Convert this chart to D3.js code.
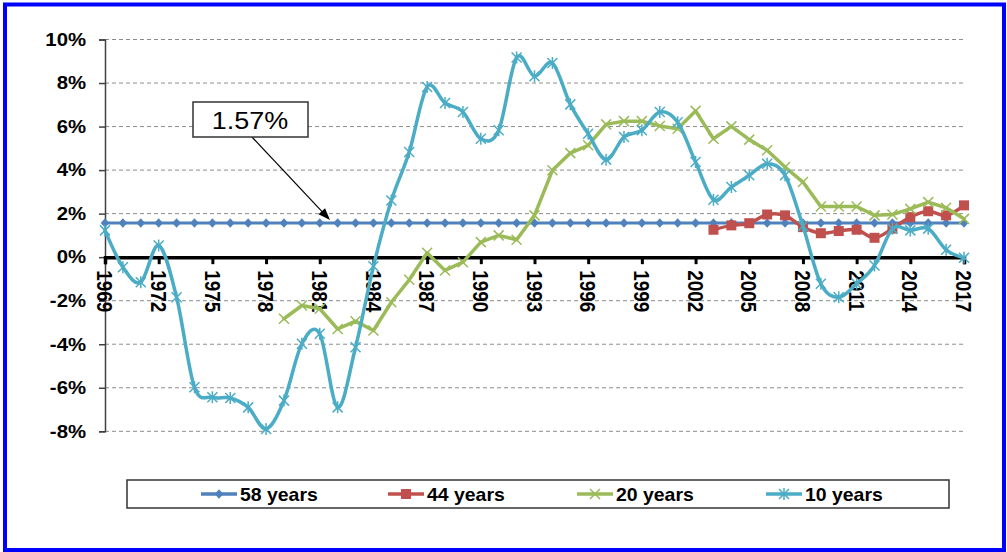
<!DOCTYPE html>
<html>
<head>
<meta charset="utf-8">
<script src="https://cdn.jsdelivr.net/npm/d3@7/dist/d3.min.js"></script>
<style>
  html, body { margin: 0; padding: 0; background: #fff; }
  svg { display: block; }
  text { font-family: "Liberation Sans", Arial, sans-serif; }
</style>
</head>
<body>
<svg id="chart" width="1007" height="552"></svg>
<script>
// ---------- DATA ----------
const years = [1969,1970,1971,1972,1973,1974,1975,1976,1977,1978,1979,1980,1981,1982,1983,1984,1985,1986,1987,1988,1989,1990,1991,1992,1993,1994,1995,1996,1997,1998,1999,2000,2001,2002,2003,2004,2005,2006,2007,2008,2009,2010,2011,2012,2013,2014,2015,2016,2017];
const tickYears = [1969,1972,1975,1978,1981,1984,1987,1990,1993,1996,1999,2002,2005,2008,2011,2014,2017];
const yTicks = [-8,-6,-4,-2,0,2,4,6,8,10];

const seriesNames = ["58 years","44 years","20 years","10 years"];

// 58 years: 1969-2017
const s58 = [1.57,1.57,1.57,1.57,1.57,1.57,1.57,1.57,1.57,1.57,1.57,1.57,1.57,1.57,1.57,1.57,1.57,1.57,1.57,1.57,1.57,1.57,1.57,1.57,1.57,1.57,1.57,1.57,1.57,1.57,1.57,1.57,1.57,1.57,1.57,1.57,1.57,1.57,1.57,1.57,1.57,1.57,1.57,1.57,1.57,1.57,1.57,1.57,1.57];
// 44 years: 2003-2017
const s44Start = 2003;
const s44 = [1.26,1.46,1.56,1.96,1.92,1.38,1.10,1.20,1.26,0.89,1.31,1.84,2.11,1.92,2.38];
// 20 years: 1979-2017
const s20Start = 1979;
const s20 = [-2.83,-2.22,-2.37,-3.30,-2.94,-3.37,-2.07,-1.04,0.20,-0.61,-0.23,0.69,1.00,0.80,1.92,3.99,4.78,5.14,6.10,6.25,6.25,6.03,5.90,6.72,5.44,6.01,5.40,4.91,4.14,3.45,2.33,2.33,2.33,1.92,1.96,2.22,2.53,2.27,1.76];
// 10 years: 1969-2017
const s10 = [1.23,-0.46,-1.15,0.54,-1.84,-5.98,-6.44,-6.47,-6.90,-7.89,-6.59,-3.98,-3.52,-6.90,-4.14,-0.42,2.60,4.83,7.82,7.08,6.67,5.44,5.83,9.17,8.31,8.92,7.02,5.67,4.48,5.52,5.83,6.67,6.20,4.37,2.64,3.22,3.76,4.29,3.76,1.43,-1.22,-1.84,-1.22,-0.38,1.31,1.23,1.31,0.34,-0.03];

const annotationText = "1.57%";

// ---------- SETUP ----------
const svg = d3.select("#chart");
const SX = 1.13; // horizontal text stretch seen in the reference

const x = d3.scaleLinear().domain([1969, 2017]).range([105, 964]);
const y = d3.scaleLinear().domain([-8, 10]).range([431.3, 39.5]);

const colors = ["#4F81BD", "#C0504D", "#9BBB59", "#4BACC6"];

function txt(g, px, py, str, opts) {
  const o = Object.assign({size: 18, weight: "bold", anchor: "start", rotate: 0, dy: "0.35em", sx: SX}, opts || {});
  const gg = g.append("g").attr("transform", `translate(${px},${py}) scale(${o.sx},1) rotate(${o.rotate})`);
  gg.append("text")
    .attr("x", 0).attr("y", 0)
    .attr("dy", o.dy)
    .attr("text-anchor", o.anchor)
    .attr("font-size", o.size)
    .attr("font-weight", o.weight)
    .attr("fill", "#000")
    .text(str);
  return gg;
}

// outer blue frame
svg.append("rect")
  .attr("x", 5).attr("y", 4.5).attr("width", 999).attr("height", 545.5)
  .attr("fill", "#fff").attr("stroke", "#0000FF").attr("stroke-width", 4);

// gridlines
const grid = svg.append("g");
grid.selectAll("line").data(yTicks.filter(d => d !== 0)).join("line")
  .attr("x1", x(1969)).attr("x2", 965)
  .attr("y1", d => y(d)).attr("y2", d => y(d))
  .attr("stroke", "#8c8c8c").attr("stroke-width", 1)
  .attr("stroke-dasharray", "4,3");

// y axis
const yAxisG = svg.append("g").attr("transform", `translate(${x(1969)},0)`);
yAxisG.call(d3.axisLeft(y).tickValues(yTicks).tickSize(6).tickFormat(""));
yAxisG.select(".domain").attr("stroke", "#404040").attr("stroke-width", 1.5);
yAxisG.selectAll(".tick line").attr("stroke", "#404040").attr("stroke-width", 1.5);
yTicks.forEach(t => {
  txt(svg, 86, y(t), t + "%", {anchor: "end", size: 18});
});

// x axis (at zero)
const xAxisG = svg.append("g").attr("transform", `translate(0,${y(0)})`);
xAxisG.call(d3.axisBottom(x).tickValues(tickYears).tickSize(7).tickFormat(""));
xAxisG.select(".domain").attr("stroke", "#000").attr("stroke-width", 3.5);
xAxisG.selectAll(".tick line").attr("stroke", "#000").attr("stroke-width", 3);
tickYears.forEach(t => {
  txt(svg, x(t), y(0) + 13, String(t), {rotate: 90, size: 19, anchor: "start", dy: "0.36em", sx: 1.15});
});

// markers
function drawMarker(g, type, cx, cy, color) {
  if (type === 0) {
    g.append("path").attr("d", `M${cx},${cy-4.8}L${cx+4.3},${cy}L${cx},${cy+4.8}L${cx-4.3},${cy}Z`).attr("fill", color);
  } else if (type === 1) {
    g.append("rect").attr("x", cx-5).attr("y", cy-5).attr("width", 10).attr("height", 10).attr("fill", color);
  } else if (type === 2) {
    g.append("path").attr("d", `M${cx-5},${cy-5}L${cx+5},${cy+5}M${cx-5},${cy+5}L${cx+5},${cy-5}`)
      .attr("stroke", color).attr("stroke-width", 1.5).attr("fill", "none");
  } else {
    g.append("path").attr("d", `M${cx-5},${cy-5}L${cx+5},${cy+5}M${cx-5},${cy+5}L${cx+5},${cy-5}M${cx},${cy-6}L${cx},${cy+6}`)
      .attr("stroke", color).attr("stroke-width", 1.5).attr("fill", "none");
  }
}

function toPts(start, vals) {
  return vals.map((v, i) => ({yr: start + i, v}));
}
const seriesData = [
  {pts: toPts(1969, s58), curve: d3.curveLinear, w: 3},
  {pts: toPts(s44Start, s44), curve: d3.curveCardinal.tension(0), w: 3.5},
  {pts: toPts(s20Start, s20), curve: d3.curveLinear, w: 3.5},
  {pts: toPts(1969, s10), curve: d3.curveCardinal.tension(0), w: 3.5}
];

const plot = svg.append("g");
seriesData.forEach((s, i) => {
  const line = d3.line().x(d => x(d.yr)).y(d => y(d.v)).curve(s.curve);
  const g = plot.append("g");
  g.append("path").datum(s.pts).attr("d", line)
    .attr("fill", "none").attr("stroke", colors[i]).attr("stroke-width", s.w)
    .attr("stroke-linejoin", "round").attr("stroke-linecap", "round");
  s.pts.forEach(p => drawMarker(g, i, x(p.yr), y(p.v), colors[i]));
});

// annotation
const ann = svg.append("g");
const arrowEnd = [330, y(1.57) - 3];
const arrowStart = [252, 137];
ann.append("line")
  .attr("x1", arrowStart[0]).attr("y1", arrowStart[1])
  .attr("x2", arrowEnd[0] - 7).attr("y2", arrowEnd[1] - 7.4)
  .attr("stroke", "#000").attr("stroke-width", 1.2);
{
  const ang = Math.atan2(arrowEnd[1] - arrowStart[1], arrowEnd[0] - arrowStart[0]);
  const L = 12, W = 4.5;
  const bx = arrowEnd[0] - L * Math.cos(ang), by = arrowEnd[1] - L * Math.sin(ang);
  const px = -Math.sin(ang) * W, py = Math.cos(ang) * W;
  ann.append("path")
    .attr("d", `M${arrowEnd[0]},${arrowEnd[1]}L${bx + px},${by + py}L${bx - px},${by - py}Z`)
    .attr("fill", "#000");
}
ann.append("rect").attr("x", 193).attr("y", 102).attr("width", 115).attr("height", 35)
  .attr("fill", "#fff").attr("stroke", "#333").attr("stroke-width", 1.5);
txt(ann, 250, 120.5, annotationText, {anchor: "middle", size: 24.5, weight: "normal", sx: 1.1});

// legend
const leg = svg.append("g");
leg.append("rect").attr("x", 127).attr("y", 480).attr("width", 822).attr("height", 28)
  .attr("fill", "#fff").attr("stroke", "#333").attr("stroke-width", 1.5);
const legStarts = [201, 388, 577, 766];
seriesNames.forEach((name, i) => {
  const lx = legStarts[i], ly = 494;
  leg.append("line").attr("x1", lx).attr("x2", lx + 36).attr("y1", ly).attr("y2", ly)
    .attr("stroke", colors[i]).attr("stroke-width", 3.5);
  drawMarker(leg, i, lx + 18, ly, colors[i]);
  txt(leg, lx + 39, ly + 1, name, {size: 18, weight: "bold", sx: 1.08});
});
</script>
</body>
</html>
